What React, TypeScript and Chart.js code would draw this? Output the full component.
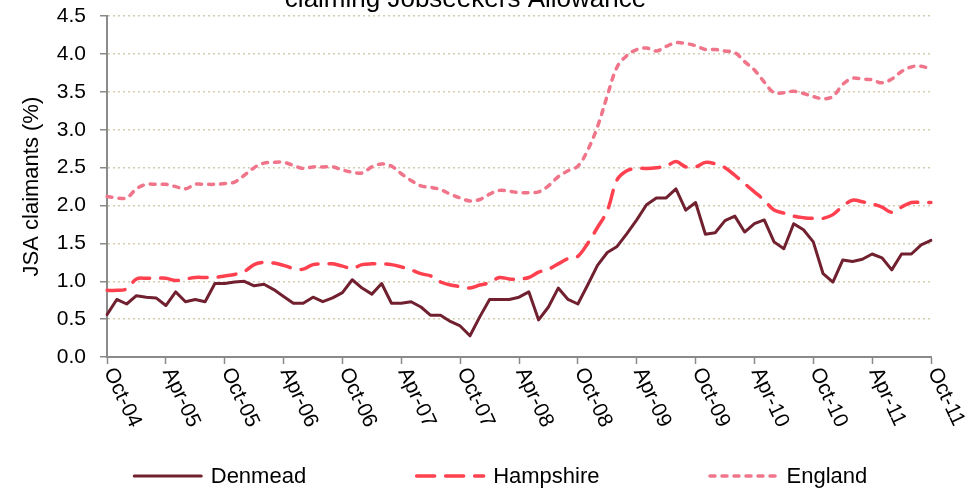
import React, { useEffect, useRef } from 'react';
import { Chart, registerables } from 'chart.js';

Chart.register(...registerables);

const FONT = '"Liberation Sans", Arial, Helvetica, sans-serif';

const categories = [
  'Oct-04', 'Nov-04', 'Dec-04',
  'Jan-05', 'Feb-05', 'Mar-05', 'Apr-05', 'May-05', 'Jun-05', 'Jul-05', 'Aug-05', 'Sep-05', 'Oct-05', 'Nov-05', 'Dec-05',
  'Jan-06', 'Feb-06', 'Mar-06', 'Apr-06', 'May-06', 'Jun-06', 'Jul-06', 'Aug-06', 'Sep-06', 'Oct-06', 'Nov-06', 'Dec-06',
  'Jan-07', 'Feb-07', 'Mar-07', 'Apr-07', 'May-07', 'Jun-07', 'Jul-07', 'Aug-07', 'Sep-07', 'Oct-07', 'Nov-07', 'Dec-07',
  'Jan-08', 'Feb-08', 'Mar-08', 'Apr-08', 'May-08', 'Jun-08', 'Jul-08', 'Aug-08', 'Sep-08', 'Oct-08', 'Nov-08', 'Dec-08',
  'Jan-09', 'Feb-09', 'Mar-09', 'Apr-09', 'May-09', 'Jun-09', 'Jul-09', 'Aug-09', 'Sep-09', 'Oct-09', 'Nov-09', 'Dec-09',
  'Jan-10', 'Feb-10', 'Mar-10', 'Apr-10', 'May-10', 'Jun-10', 'Jul-10', 'Aug-10', 'Sep-10', 'Oct-10', 'Nov-10', 'Dec-10',
  'Jan-11', 'Feb-11', 'Mar-11', 'Apr-11', 'May-11', 'Jun-11', 'Jul-11', 'Aug-11', 'Sep-11', 'Oct-11',
];

const xTickLabels = [
  'Oct-04', 'Apr-05', 'Oct-05', 'Apr-06', 'Oct-06', 'Apr-07', 'Oct-07', 'Apr-08',
  'Oct-08', 'Apr-09', 'Oct-09', 'Apr-10', 'Oct-10', 'Apr-11', 'Oct-11',
];

const yTicks = [0, 0.5, 1.0, 1.5, 2.0, 2.5, 3.0, 3.5, 4.0, 4.5];

const denmead = [
  0.56, 0.76, 0.70,
  0.81, 0.79, 0.78, 0.68, 0.86, 0.73, 0.76, 0.73, 0.97, 0.97, 0.99, 1.00,
  0.94, 0.96, 0.89, 0.80, 0.71, 0.71, 0.79, 0.73, 0.78, 0.85, 1.02, 0.91,
  0.83, 0.97, 0.71, 0.71, 0.73, 0.66, 0.55, 0.55, 0.47, 0.41, 0.28, 0.53,
  0.76, 0.76, 0.76, 0.79, 0.86, 0.49, 0.66, 0.91, 0.76, 0.70, 0.95, 1.21,
  1.38, 1.46, 1.63, 1.81, 2.01, 2.10, 2.10, 2.22, 1.94, 2.04, 1.62, 1.64,
  1.80, 1.86, 1.65, 1.76, 1.81, 1.52, 1.43, 1.76, 1.68, 1.52, 1.10, 0.99,
  1.28, 1.26, 1.29, 1.36, 1.31, 1.15, 1.36, 1.36, 1.48, 1.54,
];

const hampshire = [
  0.88, 0.88, 0.90,
  1.03, 1.04, 1.04, 1.04, 1.01, 1.03, 1.05, 1.05, 1.05, 1.07, 1.09, 1.13,
  1.22, 1.25, 1.24, 1.21, 1.17, 1.16, 1.22, 1.23, 1.23, 1.20, 1.17, 1.22,
  1.23, 1.23, 1.22, 1.19, 1.15, 1.10, 1.07, 0.99, 0.95, 0.93, 0.91, 0.95,
  0.98, 1.05, 1.03, 1.03, 1.05, 1.12, 1.16, 1.23, 1.30, 1.33, 1.50, 1.71,
  1.93, 2.34, 2.46, 2.49, 2.49, 2.50, 2.52, 2.58, 2.51, 2.51, 2.57, 2.55,
  2.50, 2.40, 2.29, 2.18, 2.07, 1.94, 1.90, 1.86, 1.84, 1.83, 1.83, 1.88,
  1.99, 2.07, 2.05, 2.02, 1.98, 1.91, 1.98, 2.04, 2.04, 2.04,
];

const england = [
  2.12, 2.10, 2.10,
  2.22, 2.28, 2.28, 2.28, 2.25, 2.22, 2.28, 2.28, 2.28, 2.29, 2.31, 2.40,
  2.50, 2.56, 2.57, 2.57, 2.53, 2.49, 2.51, 2.51, 2.51, 2.47, 2.44, 2.43,
  2.51, 2.55, 2.52, 2.42, 2.33, 2.26, 2.24, 2.21, 2.15, 2.10, 2.06, 2.08,
  2.15, 2.20, 2.19, 2.17, 2.17, 2.18, 2.26, 2.38, 2.46, 2.52, 2.73, 3.04,
  3.45, 3.83, 3.98, 4.06, 4.08, 4.04, 4.10, 4.15, 4.14, 4.11, 4.06, 4.06,
  4.04, 4.02, 3.90, 3.79, 3.63, 3.49, 3.49, 3.51, 3.48, 3.44, 3.41, 3.44,
  3.60, 3.68, 3.67, 3.66, 3.62, 3.67, 3.77, 3.83, 3.84, 3.80,
];

const AXIS_GREY = '#8a8a8a';
const GRID_BEIGE = '#d3cdb2';

const customTextPlugin = {
  id: 'customText',
  afterDraw(chart: any) {
    const { ctx, chartArea } = chart;
    const x = chart.scales.x;
    ctx.save();
    // rotated x-axis labels, reading downwards from each tick
    ctx.font = `21px ${FONT}`;
    ctx.fillStyle = '#000';
    ctx.textAlign = 'left';
    ctx.textBaseline = 'middle';
    xTickLabels.forEach((lab) => {
      const idx = categories.indexOf(lab);
      if (idx < 0) return;
      const px = x.getPixelForValue(idx);
      ctx.save();
      ctx.translate(px + 2, chartArea.bottom + 12);
      ctx.rotate((65 * Math.PI) / 180);
      ctx.fillText(lab, 0, 0);
      ctx.restore();
    });

    // legend
    ctx.font = `22px ${FONT}`;
    const items = chart.data.datasets.map((ds: any) => ({
      text: ds.label,
      color: ds.borderColor,
      dash: ds.borderDash || [],
      width: ds.borderWidth,
      cap: ds.borderCapStyle || 'butt',
    }));
    const sample = 70;
    const gap = 8;
    const spacing = 109;
    const widths = items.map((it: any) => sample + gap + ctx.measureText(it.text).width);
    const total = widths.reduce((a: number, b: number) => a + b, 0) + spacing * (items.length - 1);
    let cx = 500 - total / 2;
    const ly = chart.height - 14;
    items.forEach((it: any, i: number) => {
      ctx.save();
      ctx.strokeStyle = it.color;
      ctx.lineWidth = it.width;
      ctx.lineCap = it.cap;
      ctx.setLineDash(it.dash);
      ctx.beginPath();
      ctx.moveTo(cx + 1.5, ly);
      ctx.lineTo(cx + sample - 1.5, ly);
      ctx.stroke();
      ctx.restore();
      ctx.fillStyle = '#000';
      ctx.textAlign = 'left';
      ctx.textBaseline = 'middle';
      ctx.fillText(it.text, cx + sample + gap, ly + 1);
      cx += widths[i] + spacing;
    });
    ctx.restore();
  },
};

export default function App() {
  const ref = useRef<HTMLCanvasElement>(null);

  useEffect(() => {
    if (!ref.current) return;
    Chart.defaults.font.family = FONT;
    const chart = new Chart(ref.current, {
      type: 'line',
      data: {
        labels: categories,
        datasets: [
          {
            label: 'Denmead',
            data: denmead,
            borderColor: '#71202f',
            backgroundColor: '#71202f',
            borderWidth: 3,
            pointRadius: 0,
            tension: 0,
            borderCapStyle: 'round',
            borderJoinStyle: 'round',
          },
          {
            label: 'Hampshire',
            data: hampshire,
            borderColor: '#ff404f',
            backgroundColor: '#ff404f',
            borderWidth: 3.5,
            borderDash: [18, 11],
            borderCapStyle: 'round',
            pointRadius: 0,
            tension: 0.35,
          },
          {
            label: 'England',
            data: england,
            borderColor: '#f0758a',
            backgroundColor: '#f0758a',
            borderWidth: 3.5,
            borderDash: [5, 7],
            borderCapStyle: 'round',
            pointRadius: 0,
            tension: 0.35,
          },
        ],
      },
      options: {
        responsive: false,
        animation: false,
        events: [],
        layout: { padding: { left: 0, right: 39, top: 0, bottom: 0 } },
        plugins: {
          legend: { display: false },
          tooltip: { enabled: false },
          title: {
            display: true,
            text: 'claiming Jobseekers Allowance',
            color: '#000',
            font: { size: 26, weight: 'normal', family: FONT, lineHeight: 1.2 },
            padding: { top: 1, bottom: 1 },
          },
        },
        scales: {
          x: {
            type: 'category',
            offset: false,
            afterFit: (s: any) => {
              s.height = 133;
            },
            ticks: { display: false, autoSkip: false },
            grid: {
              display: true,
              drawOnChartArea: false,
              drawTicks: true,
              tickLength: 7,
              tickColor: (c: any) =>
                xTickLabels.includes(categories[c.index]) ? AXIS_GREY : 'rgba(0,0,0,0)',
              tickWidth: (c: any) => (xTickLabels.includes(categories[c.index]) ? 1.5 : 0),
            },
            border: { display: true, color: AXIS_GREY, width: 2 },
          },
          y: {
            min: 0,
            max: 4.5,
            afterFit: (s: any) => {
              s.width = 107;
            },
            afterBuildTicks: (s: any) => {
              s.ticks = yTicks.map((v) => ({ value: v }));
            },
            ticks: {
              color: '#000',
              font: { size: 21, family: FONT },
              padding: 14,
              callback: (v: any) => Number(v).toFixed(1),
            },
            grid: {
              color: (c: any) => (c.tick && c.tick.value === 0 ? 'rgba(0,0,0,0)' : GRID_BEIGE),
              lineWidth: 1.5,
              drawTicks: true,
              tickLength: 7,
              tickColor: AXIS_GREY,
              tickWidth: 1.5,
              tickBorderDash: [],
            },
            border: { display: true, color: AXIS_GREY, width: 2, dash: [2, 3] },
            title: {
              display: true,
              text: 'JSA claimants (%)',
              color: '#000',
              font: { size: 22, family: FONT, lineHeight: 1.2 },
              padding: { top: 19, bottom: 0 },
            },
          },
        },
      },
      plugins: [customTextPlugin],
    });
    return () => chart.destroy();
  }, []);

  return (
    <canvas
      ref={ref}
      width={970}
      height={507}
      style={{ position: 'fixed', left: 0, top: -17, display: 'block' }}
    />
  );
}
